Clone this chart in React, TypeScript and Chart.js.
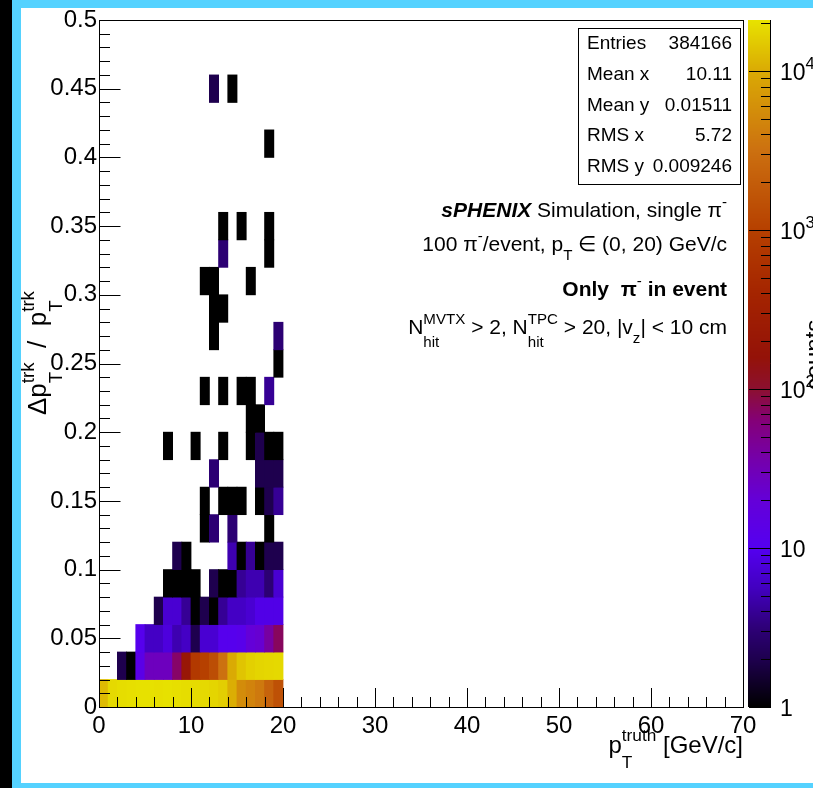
import React, { useEffect, useRef } from 'react';
import { Chart, registerables } from 'chart.js';

Chart.register(...registerables);

const CANVAS_W = 813;
const CANVAS_H = 788;
const FAMILY = '"Liberation Sans", Arial, Helvetica, sans-serif';

// Histogram binning: p_T^truth in 1 GeV/c columns, Δp_T/p_T in 0.02 rows.
const xBinWidth = 1;
const yBinWidth = 0.02;

// Bin contents, one array per Δp_T/p_T row (row00 = [0, 0.02)), columns p_T^truth 0..20 GeV/c.
// Columns above 20 GeV/c are empty.
const row00 = [12500, 18500, 19500, 20000, 20500, 20500, 20000, 20500, 20000, 19500, 19000, 18500, 17500, 16000, 10500, 5500, 4600, 3800, 2300, 1500];
const row01 = [0, 0, 2, 1, 13, 28, 28, 28, 70, 200, 800, 1000, 1400, 3200, 10000, 14000, 16500, 17500, 18000, 18500];
const row02 = [0, 0, 0, 0, 11, 6, 6, 8, 5, 6, 2, 7, 7, 11, 11, 12, 20, 22, 40, 75];
const row03 = [0, 0, 0, 0, 0, 0, 2, 7, 7, 4, 1, 2, 1, 4, 6, 6, 7, 9, 9, 9];
const row04 = [0, 0, 0, 0, 0, 0, 0, 1, 1, 1, 1, 0, 2, 1, 1, 4, 5, 5, 3, 7];
const row05 = [0, 0, 0, 0, 0, 0, 0, 0, 2, 1, 0, 0, 0, 0, 5, 1, 4, 1, 2, 2];
const row06 = [0, 0, 0, 0, 0, 0, 0, 0, 0, 0, 0, 1, 3, 0, 3, 0, 0, 0, 1, 0];
const row07 = [0, 0, 0, 0, 0, 0, 0, 0, 0, 0, 0, 1, 0, 1, 1, 1, 0, 1, 2, 4];
const row08 = [0, 0, 0, 0, 0, 0, 0, 0, 0, 0, 0, 0, 3, 0, 0, 0, 0, 2, 2, 2];
const row09 = [0, 0, 0, 0, 0, 0, 0, 1, 0, 0, 1, 0, 0, 1, 0, 0, 1, 2, 1, 1];
const row10 = [0, 0, 0, 0, 0, 0, 0, 0, 0, 0, 0, 0, 0, 0, 0, 0, 1, 1, 0, 0];
const row11 = [0, 0, 0, 0, 0, 0, 0, 0, 0, 0, 0, 1, 0, 1, 0, 1, 1, 0, 4, 0];
const row12 = [0, 0, 0, 0, 0, 0, 0, 0, 0, 0, 0, 0, 0, 0, 0, 0, 0, 0, 0, 1];
const row13 = [0, 0, 0, 0, 0, 0, 0, 0, 0, 0, 0, 0, 1, 0, 0, 0, 0, 0, 0, 3];
const row14 = [0, 0, 0, 0, 0, 0, 0, 0, 0, 0, 0, 0, 1, 1, 0, 0, 0, 0, 0, 0];
const row15 = [0, 0, 0, 0, 0, 0, 0, 0, 0, 0, 0, 1, 1, 0, 0, 0, 1, 0, 0, 0];
const row16 = [0, 0, 0, 0, 0, 0, 0, 0, 0, 0, 0, 0, 0, 3, 0, 0, 0, 0, 1, 0];
const row17 = [0, 0, 0, 0, 0, 0, 0, 0, 0, 0, 0, 0, 0, 1, 0, 1, 0, 0, 1, 0];
const row18 = [0, 0, 0, 0, 0, 0, 0, 0, 0, 0, 0, 0, 0, 0, 0, 0, 0, 0, 0, 0];
const row19 = [0, 0, 0, 0, 0, 0, 0, 0, 0, 0, 0, 0, 0, 0, 0, 0, 0, 0, 0, 0];
const row20 = [0, 0, 0, 0, 0, 0, 0, 0, 0, 0, 0, 0, 0, 0, 0, 0, 0, 0, 1, 0];
const row21 = [0, 0, 0, 0, 0, 0, 0, 0, 0, 0, 0, 0, 0, 0, 0, 0, 0, 0, 0, 0];
const row22 = [0, 0, 0, 0, 0, 0, 0, 0, 0, 0, 0, 0, 2, 0, 1, 0, 0, 0, 0, 0];
const row23 = [0, 0, 0, 0, 0, 0, 0, 0, 0, 0, 0, 0, 0, 0, 0, 0, 0, 0, 0, 0];
const row24 = [0, 0, 0, 0, 0, 0, 0, 0, 0, 0, 0, 0, 0, 0, 0, 0, 0, 0, 0, 0];

const binRows = [
  row00, row01, row02, row03, row04, row05, row06, row07, row08, row09,
  row10, row11, row12, row13, row14, row15, row16, row17, row18, row19,
  row20, row21, row22, row23, row24,
];

// Axis ranges and ticks
const xMin = 0;
const xMax = 70;
const yMin = 0;
const yMax = 0.5;
const xTickValues = [0, 10, 20, 30, 40, 50, 60, 70];
const yTickValues = [0, 0.05, 0.1, 0.15, 0.2, 0.25, 0.3, 0.35, 0.4, 0.45, 0.5];
const zMin = 1;
const zMax = 21000;
const zDecades = [1, 10, 100, 1000, 10000];

// Statistics box
const statLabels = ['Entries', 'Mean x', 'Mean y', 'RMS x', 'RMS y'];
const statValues = ['384166', '10.11', '0.01511', '5.72', '0.009246'];

// Colour palette, stops in log10(counts)
const paletteStops: number[][] = [
  [0.0, 0, 0, 0],
  [0.3, 30, 0, 78],
  [0.5, 46, 0, 120],
  [0.75, 66, 0, 192],
  [1.0, 84, 0, 240],
  [1.3, 100, 0, 216],
  [1.55, 116, 0, 172],
  [1.8, 132, 0, 120],
  [2.0, 140, 16, 48],
  [2.2, 148, 18, 8],
  [2.6, 164, 36, 0],
  [3.0, 182, 64, 0],
  [3.5, 204, 112, 16],
  [4.0, 218, 170, 4],
  [4.33, 232, 228, 0],
];

function paletteColor(count: number): string {
  const L = Math.log10(Math.max(zMin, Math.min(zMax, count)));
  let a = paletteStops[0];
  let b = paletteStops[paletteStops.length - 1];
  for (let k = 0; k < paletteStops.length - 1; k++) {
    if (L >= paletteStops[k][0] && L <= paletteStops[k + 1][0]) {
      a = paletteStops[k];
      b = paletteStops[k + 1];
      break;
    }
  }
  if (L > b[0]) a = b;
  const t = b[0] === a[0] ? 0 : (L - a[0]) / (b[0] - a[0]);
  const c = [1, 2, 3].map((n) => Math.round(a[n] + (b[n] - a[n]) * t));
  return `rgb(${c[0]},${c[1]},${c[2]})`;
}

// Cells for the floating-bar heat map
const cellData: { x: number; y: [number, number] }[] = [];
const cellColors: string[] = [];
binRows.forEach((row, j) => {
  row.forEach((count, i) => {
    if (count > 0) {
      cellData.push({ x: (i + 0.5) * xBinWidth, y: [j * yBinWidth, (j + 1) * yBinWidth] });
      cellColors.push(paletteColor(count));
    }
  });
});

type Run = { t: string; w?: string } | { sub?: string; sup?: string };

function fontOf(size: number, weight = ''): string {
  return `${weight} ${size}px ${FAMILY}`.trim();
}

function richWidth(ctx: CanvasRenderingContext2D, runs: Run[], size: number): number {
  let w = 0;
  for (const r of runs) {
    if ('t' in r) {
      ctx.font = fontOf(size, r.w);
      w += ctx.measureText(r.t).width;
    } else {
      ctx.font = fontOf(size * 0.72);
      w += Math.max(r.sub ? ctx.measureText(r.sub).width : 0, r.sup ? ctx.measureText(r.sup).width : 0);
    }
  }
  return w;
}

function drawRich(ctx: CanvasRenderingContext2D, runs: Run[], x: number, y: number, size: number, align: 'left' | 'right') {
  ctx.textAlign = 'left';
  ctx.textBaseline = 'alphabetic';
  let cx = align === 'right' ? x - richWidth(ctx, runs, size) : x;
  for (const r of runs) {
    if ('t' in r) {
      ctx.font = fontOf(size, r.w);
      ctx.fillText(r.t, cx, y);
      cx += ctx.measureText(r.t).width;
    } else {
      const s = size * 0.72;
      ctx.font = fontOf(s);
      const both = !!(r.sub && r.sup);
      let w = 0;
      if (r.sup) {
        ctx.fillText(r.sup, cx, y - size * 0.48);
        w = Math.max(w, ctx.measureText(r.sup).width);
      }
      if (r.sub) {
        ctx.fillText(r.sub, cx, y + size * (both ? 0.62 : 0.45));
        w = Math.max(w, ctx.measureText(r.sub).width);
      }
      cx += w;
    }
  }
}

const labelLines: { runs: Run[]; baseline: number; size: number }[] = [
  { runs: [{ t: 'sPHENIX', w: 'italic bold' }, { t: ' Simulation, single π' }, { sup: '-' }], baseline: 217, size: 21 },
  { runs: [{ t: '100 π' }, { sup: '-' }, { t: '/event, p' }, { sub: 'T' }, { t: ' ∈ (0, 20) GeV/c' }], baseline: 251, size: 21 },
  { runs: [{ t: 'Only  π', w: 'bold' }, { sup: '-' }, { t: ' in event', w: 'bold' }], baseline: 296, size: 21 },
  {
    runs: [
      { t: 'N' }, { sub: 'hit', sup: 'MVTX' }, { t: ' > 2, N' }, { sub: 'hit', sup: 'TPC' },
      { t: ' > 20, |v' }, { sub: 'z' }, { t: '| < 10 cm' },
    ],
    baseline: 334,
    size: 21,
  },
];

const xTitleRuns: Run[] = [{ t: 'p' }, { sub: 'T', sup: 'truth' }, { t: ' [GeV/c]' }];
const yTitleRuns: Run[] = [{ t: 'Δp' }, { sub: 'T', sup: 'trk' }, { t: '  /  p' }, { sub: 'T', sup: 'trk' }];

const CYAN = '#55d2ff';

const decorPlugin = {
  id: 'rootDecor',
  beforeDraw(chart: any) {
    const ctx: CanvasRenderingContext2D = chart.ctx;
    ctx.save();
    ctx.fillStyle = '#ffffff';
    ctx.fillRect(0, 0, CANVAS_W, CANVAS_H);
    ctx.fillStyle = CYAN;
    ctx.fillRect(0, 0, CANVAS_W, 8);
    ctx.fillRect(0, 0, 21, CANVAS_H);
    ctx.fillRect(0, 783, CANVAS_W, 5);
    ctx.fillStyle = '#000000';
    ctx.fillRect(0, 0, 12, CANVAS_H);
    ctx.restore();
  },
  afterDraw(chart: any) {
    const ctx: CanvasRenderingContext2D = chart.ctx;
    const area = chart.chartArea;
    const xs = chart.scales.x;
    const ys = chart.scales.y;
    const zs = chart.scales.z;
    ctx.save();

    // Frame
    ctx.strokeStyle = '#000';
    ctx.lineWidth = 1;
    ctx.strokeRect(Math.round(area.left) + 0.5, Math.round(area.top) + 0.5, Math.round(area.right - area.left), Math.round(area.bottom - area.top));

    // Inward ticks on the y axis (minor every 0.01)
    ctx.beginPath();
    for (let k = 0; k <= 50; k++) {
      const v = k * 0.01;
      const py = Math.round(ys.getPixelForValue(v)) + 0.5;
      const len = k % 5 === 0 ? 21.5 : 11;
      ctx.moveTo(area.left, py);
      ctx.lineTo(area.left + len, py);
    }
    // Inward ticks on the x axis (minor every 2 GeV/c)
    for (let k = 0; k <= 35; k++) {
      const v = k * 2;
      const px = Math.round(xs.getPixelForValue(v)) + 0.5;
      const len = v % 10 === 0 ? 19 : 10;
      ctx.moveTo(px, area.bottom);
      ctx.lineTo(px, area.bottom - len);
    }
    ctx.stroke();

    // Colour bar
    const cbLeft = 748;
    const cbRight = 771;
    const top = Math.round(zs.top ?? area.top);
    const bottom = Math.round(zs.bottom ?? area.bottom);
    for (let py = top; py < bottom; py++) {
      const v = zs.getValueForPixel(py + 0.5);
      ctx.fillStyle = paletteColor(v);
      ctx.fillRect(cbLeft, py, cbRight - cbLeft, 1);
    }
    ctx.beginPath();
    ctx.moveTo(cbRight - 0.5, top);
    ctx.lineTo(cbRight - 0.5, bottom);
    for (let d = 0; d <= 4; d++) {
      for (let m = 1; m <= 9; m++) {
        const v = m * Math.pow(10, d);
        if (v > zMax) continue;
        const py = Math.round(zs.getPixelForValue(v)) + 0.5;
        const len = m === 1 ? 22 : 10;
        ctx.moveTo(cbRight, py);
        ctx.lineTo(cbRight - len, py);
      }
    }
    ctx.stroke();

    // Colour bar labels
    ctx.fillStyle = '#000';
    for (const v of zDecades) {
      const e = Math.round(Math.log10(v));
      const py = zs.getPixelForValue(v);
      const runs: Run[] = e === 0 ? [{ t: '1' }] : e === 1 ? [{ t: '10' }] : [{ t: '10' }, { sup: String(e) }];
      drawRich(ctx, runs, 780, py + 8.5, 23, 'left');
    }

    // z title, mostly beyond the right edge
    ctx.save();
    ctx.translate(822, 355);
    ctx.rotate(-Math.PI / 2);
    ctx.font = fontOf(24);
    ctx.textAlign = 'center';
    ctx.textBaseline = 'alphabetic';
    ctx.fillText('counts', 0, 0);
    ctx.restore();

    // Axis titles
    drawRich(ctx, xTitleRuns, 743, 753, 24, 'right');
    ctx.save();
    ctx.translate(46, 415);
    ctx.rotate(-Math.PI / 2);
    drawRich(ctx, yTitleRuns, 0, 0, 26, 'left');
    ctx.restore();

    // Statistics box
    ctx.fillStyle = '#fff';
    ctx.fillRect(578, 28, 162, 156);
    ctx.strokeStyle = '#000';
    ctx.strokeRect(578.5, 28.5, 162, 156);
    ctx.fillStyle = '#000';
    ctx.font = fontOf(19);
    ctx.textBaseline = 'middle';
    statLabels.forEach((label, k) => {
      const cy = 44 + k * 30.7;
      ctx.textAlign = 'left';
      ctx.fillText(label, 587, cy);
      ctx.textAlign = 'right';
      ctx.fillText(statValues[k], 732, cy);
    });

    // Legend text block
    for (const line of labelLines) {
      drawRich(ctx, line.runs, 727, line.baseline, line.size, 'right');
    }

    ctx.restore();
  },
};

export default function App() {
  const canvasRef = useRef<HTMLCanvasElement | null>(null);

  useEffect(() => {
    if (!canvasRef.current) return;
    const chart = new Chart(canvasRef.current, {
      type: 'bar',
      data: {
        datasets: [
          {
            data: cellData as any,
            backgroundColor: cellColors,
            borderWidth: 0,
            grouped: false,
            barPercentage: 1,
            categoryPercentage: 1,
            inflateAmount: 0.4,
          } as any,
        ],
      },
      options: {
        responsive: false,
        animation: false,
        devicePixelRatio: 1,
        events: [],
        layout: { padding: { top: 20, right: 70, left: 0, bottom: 0 } },
        plugins: {
          legend: { display: false },
          tooltip: { enabled: false },
          title: { display: false },
        },
        scales: {
          x: {
            type: 'linear',
            offset: false,
            min: xMin,
            max: xMax,
            afterBuildTicks: (s: any) => {
              s.ticks = xTickValues.map((value) => ({ value }));
            },
            afterFit: (s: any) => {
              s.height = 81;
            },
            grid: { display: false, drawTicks: false, offset: false },
            border: { display: false },
            ticks: {
              autoSkip: false,
              maxRotation: 0,
              padding: 5,
              color: '#000',
              font: { family: FAMILY, size: 24 },
              callback: (v: any) => String(v),
            },
          },
          y: {
            type: 'linear',
            min: yMin,
            max: yMax,
            afterBuildTicks: (s: any) => {
              s.ticks = yTickValues.map((value) => ({ value }));
            },
            afterFit: (s: any) => {
              s.width = 99;
            },
            grid: { display: false, drawTicks: false },
            border: { display: false },
            ticks: {
              autoSkip: false,
              padding: 2,
              color: '#000',
              font: { family: FAMILY, size: 24 },
              callback: (v: any) => String(Number(Number(v).toFixed(2))),
            },
          },
          z: {
            type: 'logarithmic',
            axis: 'y',
            position: 'right',
            display: false,
            min: zMin,
            max: zMax,
          },
        } as any,
      },
      plugins: [decorPlugin],
    });
    return () => chart.destroy();
  }, []);

  return (
    <div style={{ position: 'fixed', left: 0, top: 0, width: CANVAS_W, height: CANVAS_H, background: '#fff' }}>
      <canvas ref={canvasRef} width={CANVAS_W} height={CANVAS_H} style={{ display: 'block' }} />
    </div>
  );
}
